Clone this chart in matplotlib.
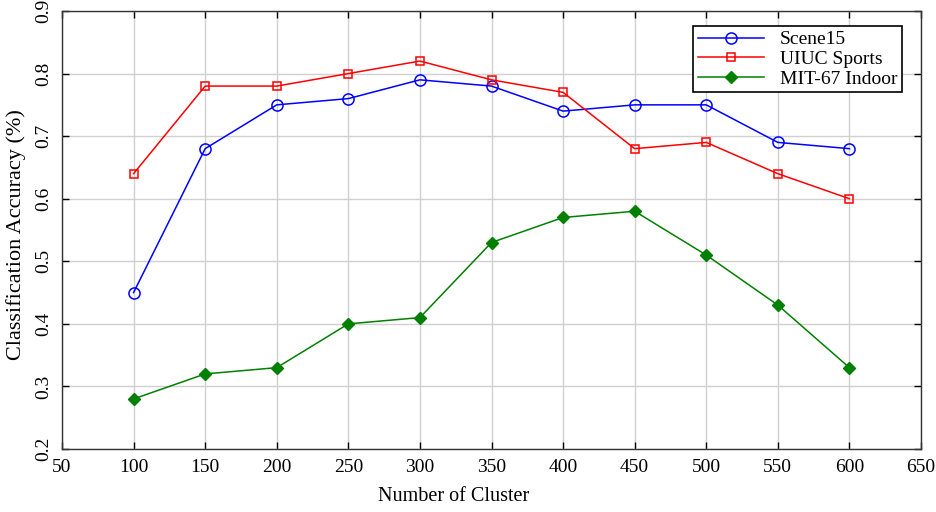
import matplotlib
matplotlib.use("Agg")
import matplotlib.pyplot as plt

clusters = [100, 150, 200, 250, 300, 350, 400, 450, 500, 550, 600]
scene15 = [0.45, 0.68, 0.75, 0.76, 0.79, 0.78, 0.74, 0.75, 0.75, 0.69, 0.68]
uiuc = [0.64, 0.78, 0.78, 0.80, 0.82, 0.79, 0.77, 0.68, 0.69, 0.64, 0.60]
mit67 = [0.28, 0.32, 0.33, 0.40, 0.41, 0.53, 0.57, 0.58, 0.51, 0.43, 0.33]
xticks = list(range(50, 651, 50))
yticks = [0.2, 0.3, 0.4, 0.5, 0.6, 0.7, 0.8, 0.9]

plt.rcParams['font.family'] = ['Liberation Serif', 'DejaVu Serif']

fig = plt.figure(figsize=(9.37, 5.12), dpi=100)
ax = fig.add_axes([62/937, 1 - 449/512, (921-62)/937, (449-11)/512])

ax.plot(clusters, scene15, color='blue', marker='o', markersize=8, markerfacecolor='none',
        markeredgewidth=1.1, linewidth=1.1, label='Scene15')
ax.plot(clusters, uiuc, color='red', marker='s', markersize=6, markerfacecolor='none',
        markeredgewidth=1.1, linewidth=1.1, label='UIUC Sports')
ax.plot(clusters, mit67, color='green', marker='D', markersize=6, markerfacecolor='green',
        markeredgecolor='green', linewidth=1.1, label='MIT-67 Indoor')

ax.set_xlim(50, 650)
ax.set_ylim(0.2, 0.9)
ax.set_xticks(xticks)
ax.set_yticks(yticks)
ax.set_xticklabels([str(x) for x in xticks], fontsize=14)
ax.set_yticklabels([f"{y:.1f}" for y in yticks], fontsize=14, rotation=90, va='center')
ax.grid(True, color='#d0d0d0', linewidth=1.0)
ax.tick_params(direction='in', top=True, right=True, length=5, width=1, pad=7)
for s in ax.spines.values():
    s.set_linewidth(1.0)
    s.set_color('#333333')

ax.set_xlabel('Number of Cluster', fontsize=14.5)
ax.xaxis.set_label_coords((454-62)/859, -(487-449)/438, transform=ax.transAxes)
ax.set_ylabel('Classification Accuracy (%)', fontsize=16)
ax.yaxis.set_label_coords(-(62-26)/859, (449-235)/438, transform=ax.transAxes)

leg = ax.legend(loc='upper right', bbox_to_anchor=((902-62)/(921-62), (449-26)/438),
                fontsize=14, fancybox=False, edgecolor='black', framealpha=1,
                borderpad=0.25, labelspacing=0.1, handlelength=3.4, borderaxespad=0)
leg.get_frame().set_linewidth(1.2)

fig.savefig('out.png', dpi=100)
